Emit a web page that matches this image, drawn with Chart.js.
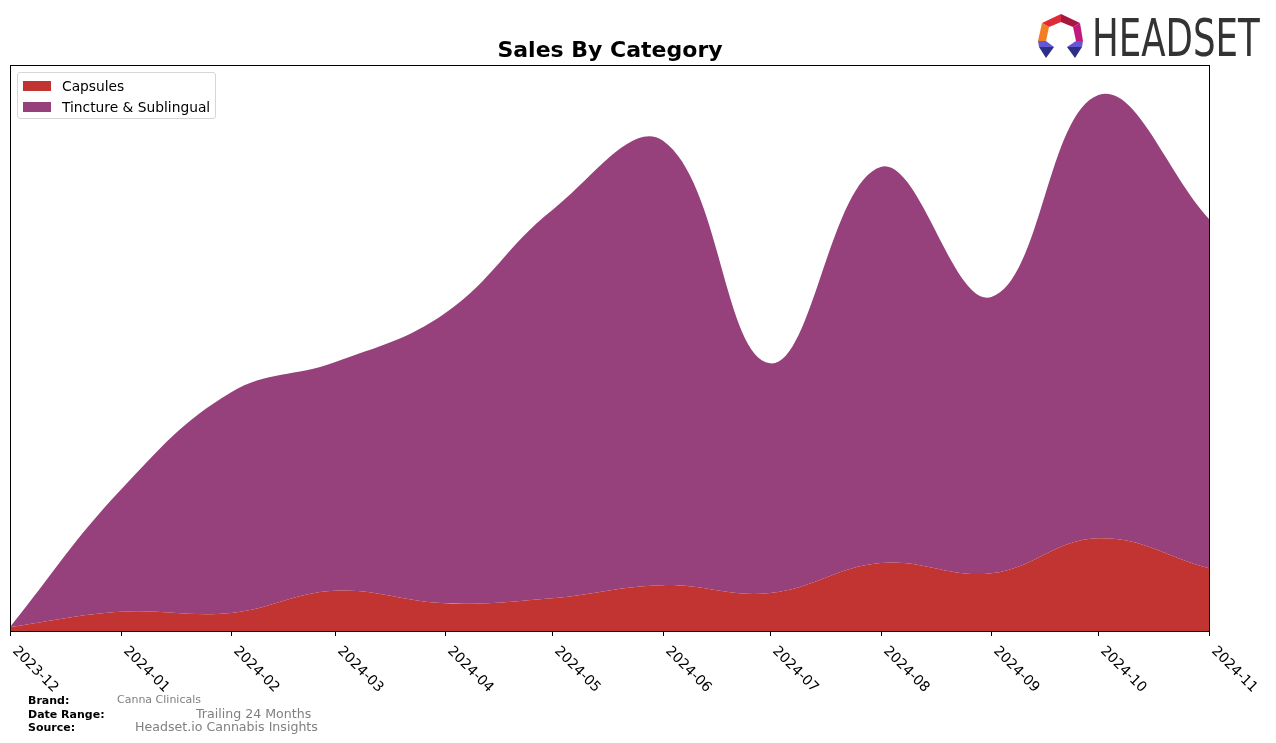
<!DOCTYPE html>
<html>
<head>
<meta charset="utf-8">
<script src="https://cdn.jsdelivr.net/npm/chart.js@4.4.1/dist/chart.umd.min.js"></script>
<style>
    body { margin: 0; background: #fff; font-family: "DejaVu Sans", sans-serif; }
    #wrap { position: relative; width: 1276px; height: 743px; overflow: hidden; }
    #salesChart { position: absolute; left: 0; top: 0; }
    .title { position: absolute; left: 10px; width: 1200px; top: 37px; text-align: center; font-weight: bold; font-size: 22px; color: #000; }
    .legend { position: absolute; left: 17px; top: 72px; width: 197px; height: 45px; border: 1px solid #d6d6d6; border-radius: 3px; background: rgba(255,255,255,0.8); font-size: 13.8px; }
    .legend .item { position: absolute; left: 5px; height: 16px; line-height: 16px; white-space: nowrap; }
    .legend .sw { display: inline-block; width: 28px; height: 10px; vertical-align: middle; margin-right: 11px; margin-top: -3px; }
    .logo { position: absolute; left: 1038px; top: 13px; }
    .logo-text { position: absolute; left: 1092px; top: 9px; font-family: "Liberation Sans Narrow", "DejaVu Sans Condensed", sans-serif; font-size: 51px; color: #333; transform: scaleX(0.775); transform-origin: left top; }
    .foot { position: absolute; font-size: 11px; white-space: nowrap; }
    .foot.lbl { font-weight: bold; color: #000; left: 28px; }
    .foot.val { color: #808080; font-size: 12.6px; }
</style>
</head>
<body>
<div id="wrap">
    <canvas id="salesChart" width="1276" height="743"></canvas>
    <div class="title">Sales By Category</div>
    <div class="legend">
        <div class="item" style="top:5px"><span class="sw" style="background:#c13432"></span>Capsules</div>
        <div class="item" style="top:26px"><span class="sw" style="background:#96417b"></span>Tincture &amp; Sublingual</div>
    </div>
    <svg class="logo" width="48" height="48" viewBox="0 0 48 48">
        <polygon points="4,10 23,1 23,9 11,14" fill="#df2a38"/>
        <polygon points="23,1 42,10 35,14 23,9" fill="#a8173f"/>
        <polygon points="42,10 45,28 38,28 35,14" fill="#c01a7c"/>
        <polygon points="4,10 11,14 8,28 0,28" fill="#f47c22"/>
        <polygon points="0,28 8,28 16,34 1,34" fill="#6257d4"/>
        <polygon points="1,34 16,34 8,45" fill="#2d2f86"/>
        <polygon points="38,28 45,28 44,34 29,34" fill="#6257d4"/>
        <polygon points="29,34 44,34 37,45" fill="#2d2f86"/>
    </svg>
    <div class="logo-text">HEADSET</div>
    <div class="foot lbl" style="top:694px">Brand:</div>
    <div class="foot val" style="top:693px;left:117px;font-size:11px">Canna Clinicals</div>
    <div class="foot lbl" style="top:708px">Date Range:</div>
    <div class="foot val" style="top:706px;left:196px">Trailing 24 Months</div>
    <div class="foot lbl" style="top:721px">Source:</div>
    <div class="foot val" style="top:719px;left:135px">Headset.io Cannabis Insights</div>
</div>
<script>
// Sales by category, monthly (arbitrary units)
const months = ['2023-12', '2024-01', '2024-02', '2024-03', '2024-04', '2024-05',
                '2024-06', '2024-07', '2024-08', '2024-09', '2024-10', '2024-11'];
const capsules = [0.7, 3.4, 3.2, 7.1, 4.9, 5.8, 8.1, 6.7, 12.0, 10.2, 16.4, 11.1];
const tincture = [0.0, 21.5, 39.0, 40.4, 51.3, 68.6, 78.5, 40.6, 70.0, 48.8, 78.3, 61.7];

const DAY = 24 * 3600 * 1000;

// days since the first month, so the x axis is spaced by time
function monthOffset(m) {
    const [y, mo] = m.split('-').map(Number);
    const [y0, mo0] = months[0].split('-').map(Number);
    return (Date.UTC(y, mo - 1, 1) - Date.UTC(y0, mo0 - 1, 1)) / DAY;
}

const xs = months.map(monthOffset);

function toPoints(values) {
    return values.map((v, i) => ({ x: xs[i], y: v }));
}

/**
 * Frame, tick marks and rotated month labels
 */
const axisPlugin = {
    id: 'axisPlugin',
    afterDraw(chart) {
        const ctx = chart.ctx;
        const area = chart.chartArea;
        const xScale = chart.scales.x;
        ctx.save();
        ctx.strokeStyle = '#000';
        ctx.lineWidth = 1;
        ctx.strokeRect(area.left + 0.5, area.top + 0.5, area.right - area.left, area.bottom - area.top);

        ctx.fillStyle = '#000';
        ctx.font = '14px "DejaVu Sans", sans-serif';
        ctx.textAlign = 'left';
        ctx.textBaseline = 'top';
        xScale.ticks.forEach((t, i) => {
            const px = Math.round(xScale.getPixelForValue(t.value)) + 0.5;
            ctx.beginPath();
            ctx.moveTo(px, area.bottom);
            ctx.lineTo(px, area.bottom + 5);
            ctx.stroke();

            ctx.save();
            ctx.translate(px + 9, area.bottom + 13);
            ctx.rotate(Math.PI / 4);
            ctx.fillText(months[i], 0, 0);
            ctx.restore();
        });
        ctx.restore();
    }
};

const salesChart = new Chart(document.getElementById('salesChart'), {
    type: 'line',
    data: {
        datasets: [{
            label: 'Capsules',
            data: toPoints(capsules),
            backgroundColor: '#c13432',
            borderWidth: 0,
            pointRadius: 0,
            fill: 'origin',
            tension: 0.4
        }, {
            label: 'Tincture & Sublingual',
            data: toPoints(tincture),
            backgroundColor: '#96417b',
            borderWidth: 0,
            pointRadius: 0,
            fill: '-1',
            tension: 0.4
        }]
    },
    options: {
        responsive: false,
        animation: false,
        layout: { padding: { left: 10, top: 65, right: 67, bottom: 112 } },
        plugins: {
            legend: { display: false },
            title: { display: false },
            tooltip: { enabled: false }
        },
        scales: {
            x: {
                type: 'linear',
                display: false,
                min: xs[0],
                max: xs[xs.length - 1],
                afterBuildTicks: scale => {
                    scale.ticks = xs.map(v => ({ value: v }));
                }
            },
            y: {
                display: false,
                stacked: true,
                min: 0,
                max: 100
            }
        }
    },
    plugins: [axisPlugin]
});
</script>
</body>
</html>
